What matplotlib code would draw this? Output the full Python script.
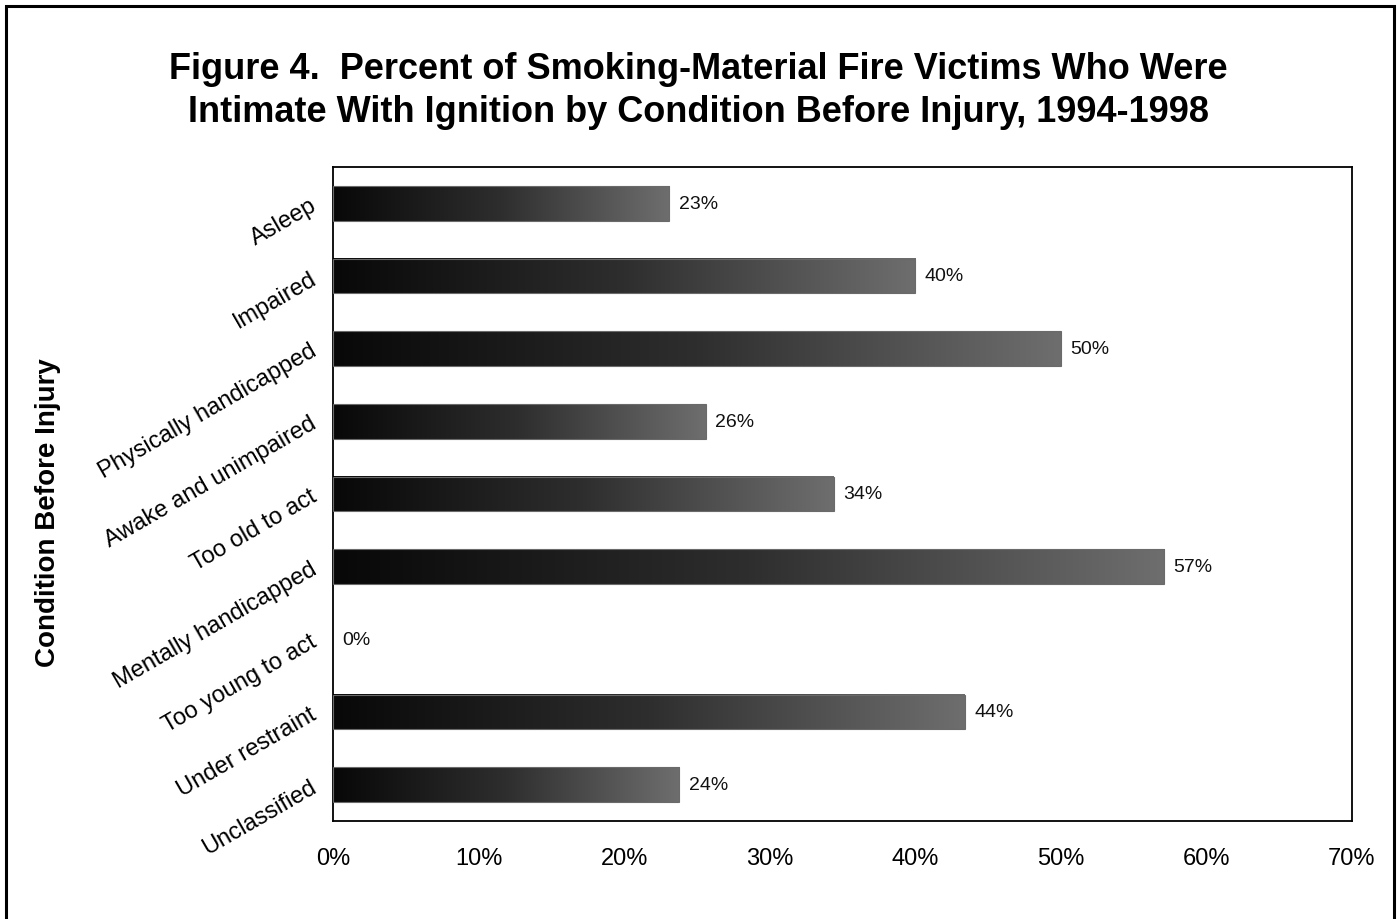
import numpy as np
import matplotlib
matplotlib.use("Agg")
import matplotlib.pyplot as plt
from matplotlib.patches import Rectangle
from matplotlib.colors import LinearSegmentedColormap

plt.rcParams['font.family'] = ['Liberation Sans', 'DejaVu Sans']

categories = ["Asleep", "Impaired", "Physically handicapped", "Awake and unimpaired",
              "Too old to act", "Mentally handicapped", "Too young to act",
              "Under restraint", "Unclassified"]
values = [23.1, 40.0, 50.0, 25.6, 34.4, 57.1, 0.0, 43.4, 23.8]
value_labels = ["23%", "40%", "50%", "26%", "34%", "57%", "0%", "44%", "24%"]
xticks = [0, 10, 20, 30, 40, 50, 60, 70]
xtick_labels = ["0%", "10%", "20%", "30%", "40%", "50%", "60%", "70%"]

title = ("Figure 4.  Percent of Smoking-Material Fire Victims Who Were\n"
         "Intimate With Ignition by Condition Before Injury, 1994-1998")

fig = plt.figure(figsize=(13.97, 9.2), dpi=100)
fig.patch.set_facecolor("white")

# outer frame
fig.add_artist(Rectangle((6/1397, -0.05), (1394-6)/1397, 1.05 - 6.5/920,
                         transform=fig.transFigure, fill=False,
                         edgecolor="black", linewidth=2.2))

ax = fig.add_axes([333/1397, 1-822/920, (1352-333)/1397, (822-168)/920])

cmap = LinearSegmentedColormap.from_list("g", ["#080808", "#2e2e2e", "#6e6e6e"])
grad = np.linspace(0, 1, 256).reshape(1, -1)
h = 0.48
for i, v in enumerate(values):
    if v > 0:
        ax.imshow(grad, cmap=cmap, aspect="auto",
                  extent=(0, v, i + h/2, i - h/2), interpolation="bilinear", zorder=2)
        ax.barh(i, v, height=h, color="none", edgecolor="#6a6a6a", linewidth=0.8, zorder=3)
    ax.text(v + 0.65, i, value_labels[i], va="center", ha="left", fontsize=14, color="#111111")

ax.set_xlim(0, 70)
ax.set_ylim(len(categories) - 0.5, -0.5)
ax.set_xticks(xticks)
ax.set_xticklabels(xtick_labels, fontsize=17)
ax.set_yticks(range(len(categories)))
ax.set_yticklabels(categories, fontsize=17, rotation=30, ha="right", va="center",
                   rotation_mode="anchor")
ax.tick_params(axis="both", length=0)
ax.tick_params(axis="x", pad=19)
ax.tick_params(axis="y", pad=13)
for s in ax.spines.values():
    s.set_linewidth(1.3)
    s.set_color("black")

fig.text(48/1397, 1 - 513/920, "Condition Before Injury", rotation=90, ha="center",
         va="center", fontsize=20, fontweight="bold")

fig.text(0.5, 1 - 91/920, title, ha="center", va="center", fontsize=26,
         fontweight="bold", linespacing=1.3)

fig.savefig("out.png", dpi=100)
